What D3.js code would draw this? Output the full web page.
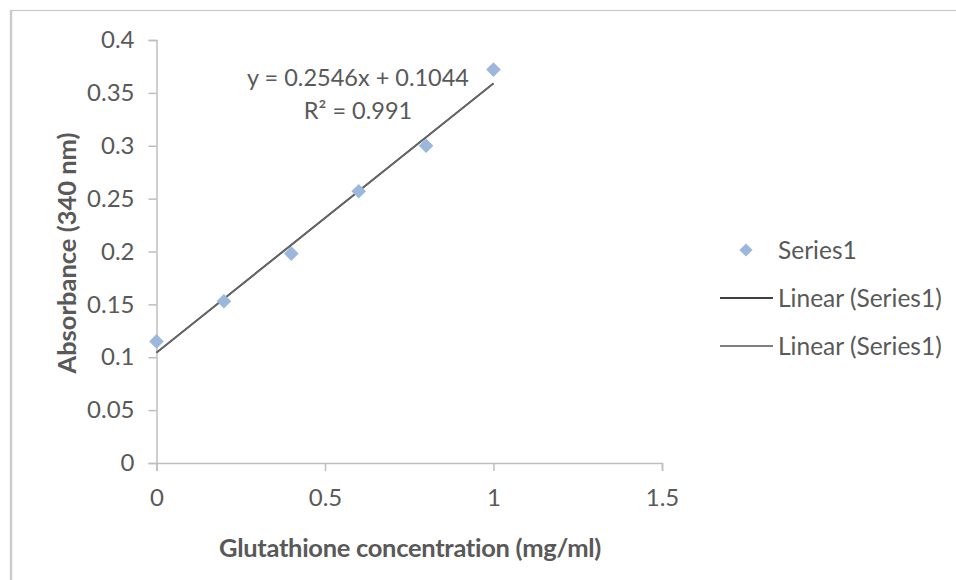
<!DOCTYPE html>
<html>
<head>
<meta charset="utf-8">
<script src="https://cdn.jsdelivr.net/npm/d3@7"></script>
<style>
  html, body { margin: 0; padding: 0; background: #fff; }
  svg { display: block; }
  text { font-family: Lato, "Open Sans", sans-serif; fill: #595959; }
</style>
</head>
<body>
<svg id="chart" width="956" height="580"></svg>
<script>
// ---- Data ----
const concentrations = [0, 0.2, 0.4, 0.6, 0.8, 1.0];
const absorbance = [0.115, 0.153, 0.198, 0.257, 0.300, 0.372];
const xTicks = [0, 0.5, 1, 1.5];
const yTicks = [0, 0.05, 0.1, 0.15, 0.2, 0.25, 0.3, 0.35, 0.4];
const trendSlope = 0.2546;
const trendIntercept = 0.1044;
const trendRange = [0, 1];
const equationLines = ["y = 0.2546x + 0.1044", "R² = 0.991"];
const legendLabels = ["Series1", "Linear (Series1)", "Linear (Series1)"];
const xTitle = "Glutathione concentration (mg/ml)";
const yTitle = "Absorbance (340 nm)";

// ---- Layout ----
const svg = d3.select("#chart");
const plot = { left: 156.5, right: 662, top: 40, bottom: 463 };

// outer chart border (cropped by the image edges)
svg.append("rect")
  .attr("x", 11).attr("y", 10.5)
  .attr("width", 1200).attr("height", 1200)
  .attr("fill", "none").attr("stroke", "#c8c8c8").attr("stroke-width", 1.2);
svg.append("line").attr("x1", 11).attr("x2", 11).attr("y1", 10).attr("y2", 580)
  .attr("stroke", "#cccccc").attr("stroke-width", 2.5);

const x = d3.scaleLinear().domain([0, 1.5]).range([plot.left, plot.right]);
const y = d3.scaleLinear().domain([0, 0.4]).range([plot.bottom, plot.top]);

const tickFont = 24;

// Y axis
const yAxis = svg.append("g")
  .attr("transform", `translate(${plot.left},0)`)
  .call(d3.axisLeft(y).tickValues(yTicks).tickSize(8).tickPadding(14)
    .tickFormat(d => String(+d.toFixed(2))));
yAxis.select(".domain").attr("stroke", "#bebebe").attr("stroke-width", 1.5);
yAxis.selectAll(".tick line").attr("stroke", "#bebebe").attr("stroke-width", 1.5);
yAxis.selectAll(".tick text").attr("font-size", tickFont).attr("fill", "#595959")
  .attr("font-family", "Lato, 'Open Sans', sans-serif");

// X axis
const xAxis = svg.append("g")
  .attr("transform", `translate(0,${plot.bottom})`)
  .call(d3.axisBottom(x).tickValues(xTicks).tickSize(8).tickPadding(18)
    .tickFormat(d => String(d)));
xAxis.select(".domain").attr("stroke", "#bebebe").attr("stroke-width", 1.5);
xAxis.selectAll(".tick line").attr("stroke", "#bebebe").attr("stroke-width", 1.5);
xAxis.selectAll(".tick text").attr("font-size", tickFont).attr("fill", "#595959")
  .attr("font-family", "Lato, 'Open Sans', sans-serif");

// Axis titles
svg.append("text")
  .attr("x", 410).attr("y", 557)
  .attr("text-anchor", "middle")
  .attr("font-size", 25.5).attr("font-weight", "bold")
  .attr("letter-spacing", -0.3)
  .text(xTitle);
svg.append("text")
  .attr("transform", "translate(76,253) rotate(-90)")
  .attr("text-anchor", "middle")
  .attr("font-size", 25.5).attr("font-weight", "bold")
  .text(yTitle);

// Trend lines (two overlapping linear trendlines)
const trend = trendRange.map(v => [v, trendSlope * v + trendIntercept]);
const lineGen = d3.line().x(d => x(d[0])).y(d => y(d[1]));
svg.append("path").datum(trend).attr("d", lineGen)
  .attr("fill", "none").attr("stroke", "#404040").attr("stroke-width", 1.8);
svg.append("path").datum(trend).attr("d", lineGen)
  .attr("fill", "none").attr("stroke", "#666666").attr("stroke-width", 1.7);

// Data points (diamonds)
const diamond = d3.symbol().type(d3.symbolDiamond2).size(136);
svg.append("g").selectAll("path")
  .data(concentrations.map((c, i) => [c, absorbance[i]]))
  .join("path")
  .attr("d", diamond)
  .attr("transform", d => `translate(${x(d[0])},${y(d[1])})`)
  .attr("fill", "#9bb7dc");

// Equation label
svg.append("g").selectAll("text")
  .data(equationLines)
  .join("text")
  .attr("x", 358)
  .attr("y", (d, i) => 86 + i * 33)
  .attr("text-anchor", "middle")
  .attr("font-size", 23.5)
  .text(d => d);

// Legend
const legend = svg.append("g");
const legendY = [250, 298, 346];
legend.append("path")
  .attr("d", d3.symbol().type(d3.symbolDiamond2).size(110))
  .attr("transform", `translate(746,${legendY[0]})`)
  .attr("fill", "#9bb7dc");
legend.append("line").attr("x1", 720).attr("x2", 773)
  .attr("y1", legendY[1]).attr("y2", legendY[1])
  .attr("stroke", "#404040").attr("stroke-width", 1.8);
legend.append("line").attr("x1", 720).attr("x2", 773)
  .attr("y1", legendY[2]).attr("y2", legendY[2])
  .attr("stroke", "#7f7f7f").attr("stroke-width", 1.8);
legend.selectAll("text.lg")
  .data(legendLabels)
  .join("text")
  .attr("class", "lg")
  .attr("x", 778)
  .attr("y", (d, i) => legendY[i])
  .attr("dy", "0.36em")
  .attr("font-size", 24.5)
  .text(d => d);
</script>
</body>
</html>
